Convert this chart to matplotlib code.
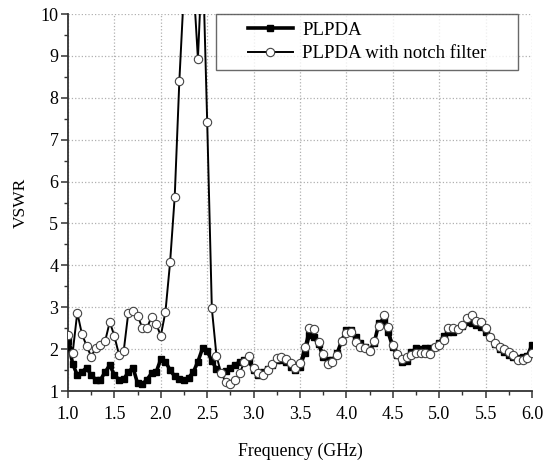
import numpy as np
import matplotlib
matplotlib.use('Agg')
import matplotlib.pyplot as plt
from matplotlib.path import Path
from matplotlib.ticker import MultipleLocator, FormatStrFormatter

# Frecuencia (GHz), paso de 0.05
freq = np.round(np.arange(1.0, 6.0001, 0.05), 2)

# VSWR de la antena PLPDA
plpda = [
    2.20, 1.65, 1.38, 1.45, 1.56, 1.38, 1.27, 1.27, 1.45, 1.62,
    1.38, 1.27, 1.28, 1.45, 1.56, 1.18, 1.16, 1.27, 1.42, 1.45,
    1.76, 1.70, 1.50, 1.35, 1.28, 1.26, 1.32, 1.45, 1.70, 2.02,
    1.95, 1.72, 1.52, 1.43, 1.48, 1.56, 1.62, 1.70, 1.74, 1.72,
    1.50, 1.38, 1.45, 1.52, 1.62, 1.74, 1.74, 1.70, 1.58, 1.50,
    1.58, 1.90, 2.34, 2.28, 2.12, 1.82, 1.74, 1.74, 1.90, 2.20,
    2.46, 2.46, 2.28, 2.15, 2.05, 1.96, 2.15, 2.62, 2.70, 2.40,
    2.05, 1.85, 1.70, 1.72, 1.92, 2.02, 2.00, 2.02, 2.03, 2.06,
    2.14, 2.32, 2.40, 2.42, 2.48, 2.55, 2.65, 2.62, 2.58, 2.52,
    2.42, 2.28, 2.12, 2.00, 1.94, 1.86, 1.80, 1.78, 1.80, 1.84,
    2.10,
]

# VSWR de la PLPDA con filtro notch
notch = [
    2.34, 1.91, 2.87, 2.36, 2.08, 1.82, 2.03, 2.10, 2.19, 2.65,
    2.31, 1.86, 1.95, 2.87, 2.91, 2.80, 2.51, 2.50, 2.77, 2.60,
    2.32, 2.89, 4.07, 5.64, 8.41, 10.6, 18.0, 10.8, 8.93, 11.5,
    7.42, 2.97, 1.84, 1.42, 1.22, 1.16, 1.26, 1.42, 1.70, 1.84,
    1.54, 1.42, 1.38, 1.50, 1.64, 1.78, 1.82, 1.76, 1.66, 1.54,
    1.68, 2.06, 2.51, 2.47, 2.18, 1.88, 1.64, 1.70, 1.86, 2.19,
    2.38, 2.42, 2.18, 2.06, 2.02, 1.95, 2.19, 2.55, 2.81, 2.53,
    2.10, 1.88, 1.76, 1.82, 1.86, 1.90, 1.91, 1.91, 1.88, 2.06,
    2.10, 2.22, 2.50, 2.50, 2.48, 2.58, 2.74, 2.81, 2.68, 2.64,
    2.51, 2.30, 2.15, 2.06, 2.00, 1.92, 1.86, 1.74, 1.74, 1.78,
    1.90,
]

plt.rcParams['font.family'] = ['Liberation Serif', 'DejaVu Serif']

fig = plt.figure(figsize=(5.47, 4.68), dpi=100)
ax = fig.add_axes([68 / 547, 1 - 391 / 468, 464 / 547, 377 / 468])

ax.plot(freq, plpda, color='black', lw=2.6, marker='s', ms=4.5,
        mfc='black', mec='black', label='PLPDA', zorder=3)
ax.plot(freq, notch, color='black', lw=1.4, marker='o', ms=6,
        mfc='white', mec='#444444', mew=0.8,
        label='PLPDA with notch filter', zorder=4)

ax.set_xlim(1.0, 6.0)
ax.set_ylim(1, 10)
ax.xaxis.set_major_locator(MultipleLocator(0.5))
ax.xaxis.set_minor_locator(MultipleLocator(0.25))
ax.xaxis.set_major_formatter(FormatStrFormatter('%.1f'))
ax.yaxis.set_major_locator(MultipleLocator(1))
ax.yaxis.set_minor_locator(MultipleLocator(0.5))

ax.grid(True, which='major', color='#b0b0b0', linestyle=':', lw=0.9)
for s in ['top', 'right']:
    ax.spines[s].set_visible(False)
for s in ['left', 'bottom']:
    ax.spines[s].set_color('#333333')
    ax.spines[s].set_linewidth(1.3)
ax.tick_params(which='major', direction='out', length=5, width=1.1,
               color='#333333', labelsize=13, pad=6)
ax.tick_params(which='minor', direction='out', length=3, width=1.0,
               color='#333333')
ax.tick_params(axis='y', pad=2)

ax.set_xlabel('Frequency (GHz)', fontsize=12.8, labelpad=14)
ax.set_ylabel('VSWR', fontsize=12.5, labelpad=8)


# marco de la leyenda mas ancho que alto
def wide_box(x0, y0, width, height, mutation_size):
    dx = 1.3 * mutation_size
    xa, xb = x0 - dx, x0 + width + dx
    yb = y0 + height
    return Path([(xa, y0), (xb, y0), (xb, yb), (xa, yb), (xa, y0)],
                closed=True)


leg = ax.legend(loc='upper right', bbox_to_anchor=(0.918, 1.0), fontsize=13.5,
                frameon=True, fancybox=False, edgecolor='#444444',
                borderpad=0.4, handlelength=2.4, labelspacing=0.35,
                handletextpad=0.5, borderaxespad=0)
leg.get_frame().set_boxstyle(wide_box)
leg.get_frame().set_linewidth(1.0)

fig.savefig('out.png', dpi=100)
